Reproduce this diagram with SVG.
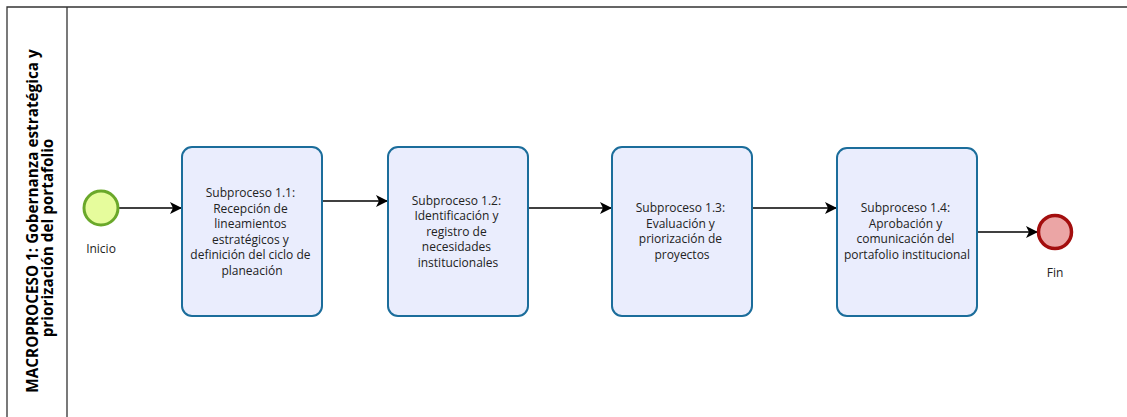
<svg xmlns="http://www.w3.org/2000/svg" width="1127" height="417" viewBox="0 0 1127 417">
  <defs>
    <marker id="arrow" viewBox="0 0 12 12" refX="12" refY="6" markerWidth="12" markerHeight="12" markerUnits="userSpaceOnUse" orient="auto">
      <path d="M0,0 L12,6 L0,12 L3,6 Z" fill="#000"/>
    </marker>
    <style>
      .pool { fill: none; stroke: #333; stroke-width: 1.3; }
      .title { font-family: "Open Sans", "Noto Sans", sans-serif; font-size: 15.3px; font-weight: bold; fill: #000; text-anchor: middle; }
      .task rect { fill: #eaedfd; stroke: #1b6d9b; stroke-width: 2; }
      .label { font-family: "Open Sans", "Noto Sans", sans-serif; font-size: 12px; fill: #222; text-anchor: middle; }
      .flow { fill: none; stroke: #000; stroke-width: 1.3; marker-end: url(#arrow); }
    </style>
  </defs>

  <!-- Pool and lane header -->
  <g id="pool">
    <path class="pool" d="M7,417 L7,7 L1127,7 M67,7 L67,417"/>
    <g transform="translate(32,221) rotate(-90)">
      <text class="title" x="0" y="5.5">MACROPROCESO 1: Gobernanza estratégica y</text>
    </g>
    <g transform="translate(47,238) rotate(-90)">
      <text class="title" x="0" y="5.5">priorización del portafolio</text>
    </g>
  </g>

  <!-- Sequence flows -->
  <g id="connectors">
    <path class="flow" d="M119,208 L182,208"/>
    <path class="flow" d="M322,201 L388,201"/>
    <path class="flow" d="M528,208 L612,208"/>
    <path class="flow" d="M752,208 L837,208"/>
    <path class="flow" d="M977,232 L1038,232"/>
  </g>

  <g id="start">
    <circle cx="101" cy="208" r="17" fill="#e6fc9c" stroke="#6aa82a" stroke-width="3"/>
    <text class="label" x="101" y="253">Inicio</text>
  </g>

  <g id="task1" class="task">
    <rect x="182" y="147" width="140" height="169" rx="10"/>
    <text class="label">
      <tspan x="252" y="197">Subproceso 1.1:</tspan>
      <tspan x="252" y="212.5">Recepción de</tspan>
      <tspan x="252" y="228">lineamientos</tspan>
      <tspan x="252" y="243.5">estratégicos y</tspan>
      <tspan x="252" y="259">definición del ciclo de</tspan>
      <tspan x="252" y="274.5">planeación</tspan>
    </text>
  </g>

  <g id="task2" class="task">
    <rect x="388" y="147" width="140" height="169" rx="10"/>
    <text class="label">
      <tspan x="458" y="204.5">Subproceso 1.2:</tspan>
      <tspan x="458" y="220">Identificación y</tspan>
      <tspan x="458" y="235.5">registro de</tspan>
      <tspan x="458" y="251">necesidades</tspan>
      <tspan x="458" y="266.5">institucionales</tspan>
    </text>
  </g>

  <g id="task3" class="task">
    <rect x="612" y="147" width="140" height="169" rx="10"/>
    <text class="label">
      <tspan x="682" y="212">Subproceso 1.3:</tspan>
      <tspan x="682" y="227.5">Evaluación y</tspan>
      <tspan x="682" y="243">priorización de</tspan>
      <tspan x="682" y="258.5">proyectos</tspan>
    </text>
  </g>

  <g id="task4" class="task">
    <rect x="837" y="148" width="140" height="168" rx="10"/>
    <text class="label">
      <tspan x="907" y="212">Subproceso 1.4:</tspan>
      <tspan x="907" y="227.5">Aprobación y</tspan>
      <tspan x="907" y="243">comunicación del</tspan>
      <tspan x="907" y="258.5">portafolio institucional</tspan>
    </text>
  </g>

  <g id="end">
    <circle cx="1055" cy="232" r="16.5" fill="#eba5a5" stroke="#a30e0e" stroke-width="3.5"/>
    <text class="label" x="1055" y="277">Fin</text>
  </g>
</svg>
